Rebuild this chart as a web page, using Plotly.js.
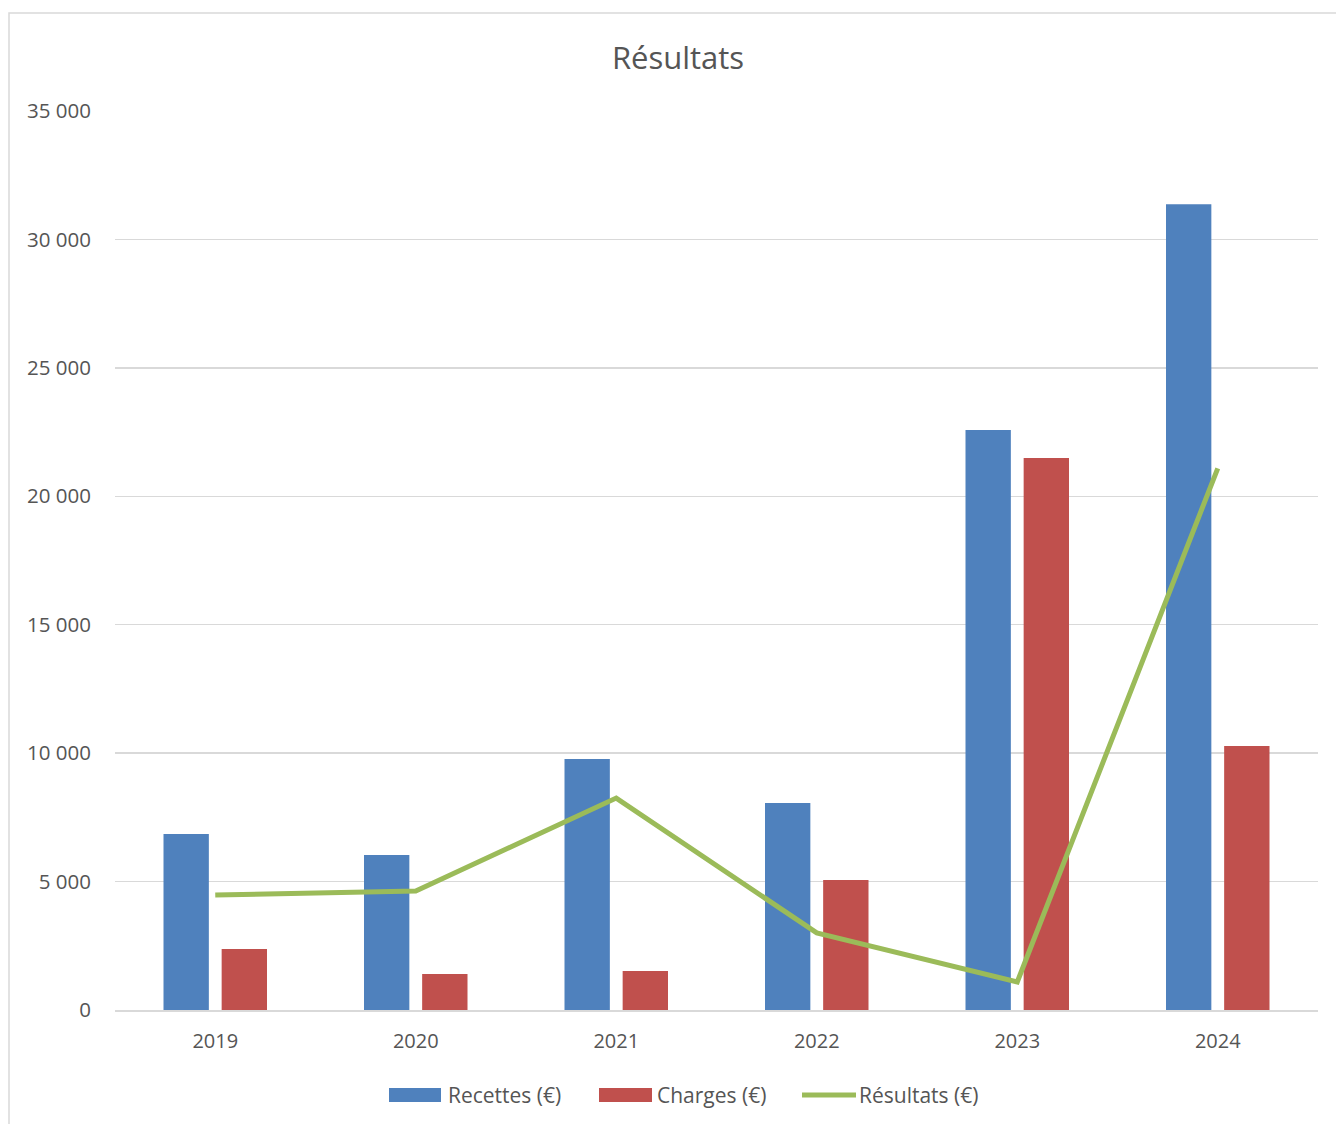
<!DOCTYPE html>
<html>
<head>
<meta charset="utf-8">
<script src="https://cdn.plot.ly/plotly-3.0.1.min.js"></script>
<style>
html,body{margin:0;padding:0;background:#fff;}
#chart{width:1336px;height:1124px;}
</style>
</head>
<body>
<div id="chart"></div>
<script>
const years = ['2019', '2020', '2021', '2022', '2023', '2024'];
const recettes = [6850, 6030, 9770, 8060, 22580, 31370];
const charges = [2370, 1400, 1520, 5060, 21490, 10280];
const resultats = [4480, 4630, 8250, 3000, 1090, 21090];
const yTicks = [0, 5000, 10000, 15000, 20000, 25000, 30000, 35000];
const yTickText = ['0', '5 000', '10 000', '15 000', '20 000', '25 000', '30 000', '35 000'];
const seriesNames = ['Recettes (€)', 'Charges (€)', 'Résultats (€)'];
const colors = ['#4F81BD', '#C0504D', '#9BBB59'];

const W = 1336, H = 1124;
const L = 115, R = 1318, T = 111, B = 1010;
const px2x = p => (p - L) / (R - L);
const py2y = p => (B - p) / (B - T);

const font = '"Open Sans", "DejaVu Sans", sans-serif';
const grey = '#555555';

const traces = [
  {type: 'bar', name: seriesNames[0], x: years, y: recettes, marker: {color: colors[0]}, hoverinfo: 'skip'},
  {type: 'bar', name: seriesNames[1], x: years, y: charges, marker: {color: colors[1]}, hoverinfo: 'skip'},
  {type: 'scatter', mode: 'lines', name: seriesNames[2], x: years, y: resultats,
   line: {color: colors[2], width: 5}, hoverinfo: 'skip'}
];

// custom legend (Excel style swatches)
const legendY = py2y(1095);
const shapes = [
  {type: 'rect', xref: 'paper', yref: 'paper', x0: px2x(9), x1: px2x(1420), y0: py2y(13), y1: py2y(1250),
   line: {color: '#d9d9d9', width: 1.5}, fillcolor: 'rgba(0,0,0,0)', layer: 'below'},
  {type: 'rect', xref: 'paper', yref: 'paper', x0: px2x(389), x1: px2x(441), y0: py2y(1088), y1: py2y(1102),
   line: {width: 0}, fillcolor: colors[0]},
  {type: 'rect', xref: 'paper', yref: 'paper', x0: px2x(599), x1: px2x(652), y0: py2y(1088), y1: py2y(1102),
   line: {width: 0}, fillcolor: colors[1]},
  {type: 'line', xref: 'paper', yref: 'paper', x0: px2x(802), x1: px2x(856), y0: legendY, y1: legendY,
   line: {color: colors[2], width: 5}}
];
const legendTextX = [446, 655, 857];
const annotations = seriesNames.map((n, i) => ({
  xref: 'paper', yref: 'paper', x: px2x(legendTextX[i]), y: legendY, xanchor: 'left', yanchor: 'middle',
  text: n, showarrow: false, font: {family: font, size: 21, color: grey}
}));

const layout = {
  width: W, height: H,
  margin: {l: L, r: W - R, t: T, b: H - B, pad: 0},
  paper_bgcolor: '#ffffff', plot_bgcolor: '#ffffff',
  title: {text: 'Résultats', font: {family: font, size: 31, color: grey},
          x: 678 / W, xref: 'container', xanchor: 'center', y: 1 - 58 / H, yref: 'container', yanchor: 'middle'},
  showlegend: false,
  barmode: 'group', bargap: 0.42, bargroupgap: 0.22,
  xaxis: {type: 'category', showgrid: false, showline: true, linecolor: '#d9d9d9', linewidth: 1.5,
          ticks: '', tickfont: {family: font, size: 20, color: grey}, ticklabelstandoff: 12, fixedrange: true},
  yaxis: {range: [0, 35000], tickvals: yTicks, ticktext: yTickText, showgrid: true, gridcolor: '#d9d9d9', gridwidth: 1.5,
          zeroline: false, showline: false, ticks: '', tickfont: {family: font, size: 20.5, color: grey},
          ticklabelstandoff: 23, fixedrange: true},
  shapes: shapes,
  annotations: annotations
};

Plotly.newPlot('chart', traces, layout, {displayModeBar: false, staticPlot: true});
</script>
</body>
</html>
